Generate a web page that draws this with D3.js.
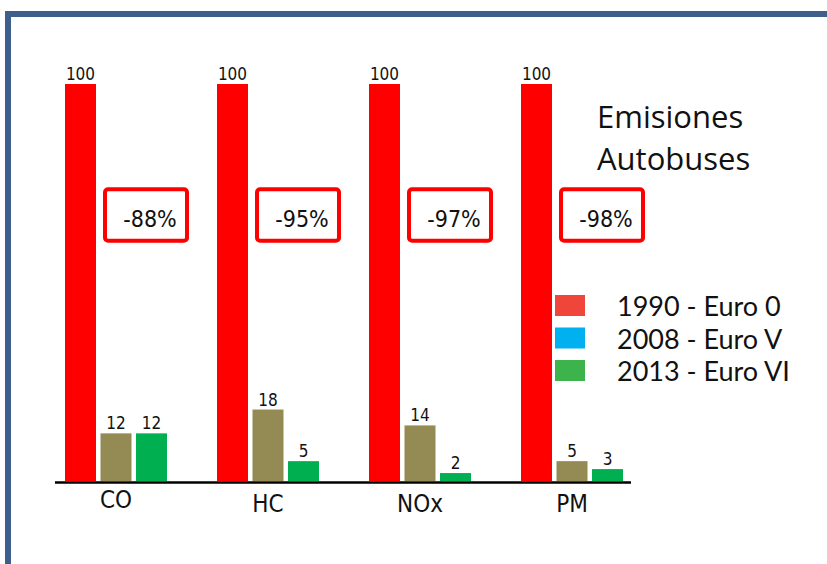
<!DOCTYPE html>
<html>
<head>
<meta charset="utf-8">
<script src="https://cdn.jsdelivr.net/npm/d3@7"></script>
<style>
  html, body { margin: 0; padding: 0; background: #fff; }
  svg { display: block; }
  .narrow { font-family: "Liberation Sans Narrow", "DejaVu Sans Condensed", "Arial Narrow", sans-serif; }
  .wide { font-family: "Open Sans", "Noto Sans", sans-serif; }
  .leg { font-family: Lato, "Open Sans", sans-serif; }
</style>
</head>
<body>
<svg id="chart" width="827" height="564"></svg>
<script>
const categories = ["CO", "HC", "NOx", "PM"];
const seriesNames = ["1990 - Euro 0", "2008 - Euro V", "2013 - Euro VI"];
const values1990 = [100, 100, 100, 100];
const values2008 = [12, 18, 14, 5];
const values2013 = [12, 5, 2, 3];
const reductions = ["-88%", "-95%", "-97%", "-98%"];
const titleLines = ["Emisiones", "Autobuses"];

const barColors = ["#FF0000", "#948A54", "#00B050"];
const legendColors = ["#F0453A", "#00B0F0", "#3CB44B"];

const svg = d3.select("#chart");

// frame
svg.append("rect")
  .attr("x", 8).attr("y", 14)
  .attr("width", 900).attr("height", 700)
  .attr("fill", "none")
  .attr("stroke", "#3E5F8C")
  .attr("stroke-width", 6);

const x0 = d3.scaleBand().domain(categories).range([65, 623]).paddingInner(0.329).paddingOuter(0);
const x1 = d3.scaleBand().domain([0, 1, 2]).range([0, x0.bandwidth()]).paddingInner(0.127).paddingOuter(0);
const y = d3.scaleLinear().domain([0, 100]).range([481, 84]);

const data = categories.map((c, i) => ({
  cat: c,
  vals: [values1990[i], values2008[i], values2013[i]],
  red: reductions[i]
}));

const groups = svg.append("g").selectAll("g")
  .data(data).join("g")
  .attr("transform", d => `translate(${x0(d.cat)},0)`);

groups.selectAll("rect.bar")
  .data(d => d.vals.map((v, k) => ({ v, k })))
  .join("rect")
  .attr("class", "bar")
  .attr("x", d => x1(d.k))
  .attr("width", x1.bandwidth())
  .attr("y", d => y(d.v))
  .attr("height", d => y(0) - y(d.v))
  .attr("fill", d => barColors[d.k]);

groups.selectAll("text.val")
  .data(d => d.vals.map((v, k) => ({ v, k })))
  .join("text")
  .attr("class", "val narrow")
  .attr("x", d => x1(d.k) + x1.bandwidth() / 2)
  .attr("y", d => y(d.v) - 4)
  .attr("text-anchor", "middle")
  .attr("font-size", 17)
  .attr("fill", "#111")
  .text(d => d.v);

// reduction boxes
const boxTop = y(73.5), boxBot = y(60.5);
groups.append("rect")
  .attr("x", 40).attr("y", boxTop)
  .attr("width", 82).attr("height", boxBot - boxTop)
  .attr("rx", 3)
  .attr("fill", "#fff")
  .attr("stroke", "#FF0000")
  .attr("stroke-width", 4);

groups.append("text")
  .attr("class", "narrow")
  .attr("x", 40 + 41 + 4)
  .attr("y", (boxTop + boxBot) / 2 + 12)
  .attr("text-anchor", "middle")
  .attr("font-size", 23)
  .attr("fill", "#111")
  .text(d => d.red);

// axis baseline
svg.append("line")
  .attr("x1", 55).attr("x2", 631)
  .attr("y1", y(0) + 1.5).attr("y2", y(0) + 1.5)
  .attr("stroke", "#000").attr("stroke-width", 2.5);

// category labels
svg.append("g").selectAll("text")
  .data(categories).join("text")
  .attr("class", "narrow")
  .attr("x", d => x0(d) + x1(1) + x1.bandwidth() / 2)
  .attr("y", (d, i) => i === 0 ? 508 : 512)
  .attr("text-anchor", "middle")
  .attr("font-size", 24)
  .attr("fill", "#111")
  .text(d => d);

// title
svg.append("g").selectAll("text")
  .data(titleLines).join("text")
  .attr("class", "wide")
  .attr("x", 597)
  .attr("y", (d, i) => 128 + i * 42)
  .attr("font-size", 31)
  .attr("fill", "#111")
  .text(d => d);

// legend
const legend = svg.append("g").selectAll("g")
  .data(seriesNames).join("g")
  .attr("transform", (d, i) => `translate(555, ${295 + i * 32.5})`);
legend.append("rect")
  .attr("width", 30).attr("height", 21)
  .attr("fill", (d, i) => legendColors[i]);
legend.append("text")
  .attr("class", "leg")
  .attr("x", 62).attr("y", 21)
  .attr("font-size", 27)
  .attr("fill", "#111")
  .text(d => d);
</script>
</body>
</html>
